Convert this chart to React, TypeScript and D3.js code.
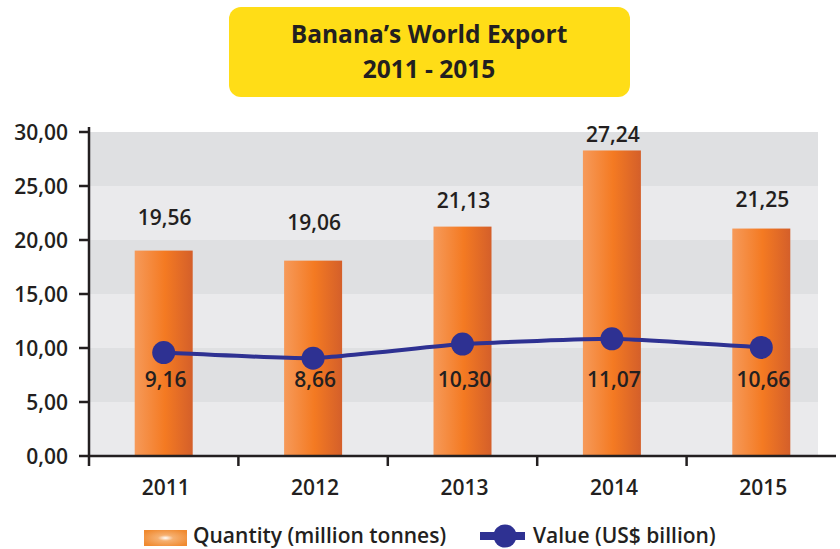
import React, { useEffect, useRef } from "react";
import * as d3 from "d3";

// values
const years = ["2011", "2012", "2013", "2014", "2015"];
const quantity = [19.02, 18.09, 21.24, 28.29, 21.06];
const quantityLabels = ["19,56", "19,06", "21,13", "27,24", "21,25"];
const quantityLabelAt = [19.56, 19.06, 21.13, 27.24, 21.25];
const value = [9.58, 9.06, 10.36, 10.85, 10.05];
const valueLabels = ["9,16", "8,66", "10,30", "11,07", "10,66"];
const yTicks = [0, 5, 10, 15, 20, 25, 30];

const W = 840;
const H = 549;
const FONT = "'Open Sans', 'Noto Sans', sans-serif";
const INK = "#231f20";
const FS = 21;

const App = () => {
    const svgRef = useRef<SVGSVGElement>(null);

    useEffect(() => {
        document.body.style.margin = "0";
        const svg = d3.select(svgRef.current);
        svg.selectAll("*").remove();

        const margin = { top: 132, right: 4, bottom: 93, left: 89 };
        const x = d3.scaleBand().domain(years).range([margin.left, W - margin.right]);
        const y = d3.scaleLinear().domain([0, 30]).range([H - margin.bottom, margin.top]);

        const defs = svg.append("defs");
        const barGrad = defs.append("linearGradient").attr("id", "barGrad");
        barGrad.append("stop").attr("offset", "0%").attr("stop-color", "#f69a5a");
        barGrad.append("stop").attr("offset", "52%").attr("stop-color", "#f47a22");
        barGrad.append("stop").attr("offset", "100%").attr("stop-color", "#d45f2a");
        const swatchGrad = defs.append("radialGradient").attr("id", "swatchGrad")
            .attr("cx", "0.5").attr("cy", "0.5").attr("r", "0.6");
        swatchGrad.append("stop").attr("offset", "0%").attr("stop-color", "#ffffff");
        swatchGrad.append("stop").attr("offset", "30%").attr("stop-color", "#f6b070");
        swatchGrad.append("stop").attr("offset", "100%").attr("stop-color", "#f08a30");

        // title box
        svg.append("rect")
            .attr("x", 229).attr("y", 7).attr("width", 401).attr("height", 90)
            .attr("rx", 12).attr("fill", "#ffdd17");
        const title = svg.append("text")
            .attr("text-anchor", "middle")
            .attr("font-family", FONT).attr("font-weight", 700)
            .attr("font-size", 24.5).attr("fill", INK);
        title.append("tspan").attr("x", 429).attr("y", 43).text("Banana’s World Export");
        title.append("tspan").attr("x", 429).attr("y", 78).text("2011 - 2015");

        // alternating bands
        const bandEnd = x(years[4])! + x.bandwidth() - 18;
        const bands = d3.pairs(yTicks);
        svg.append("g").selectAll("rect").data(bands).join("rect")
            .attr("x", margin.left)
            .attr("y", d => y(d[1]))
            .attr("width", bandEnd - margin.left)
            .attr("height", d => y(d[0]) - y(d[1]))
            .attr("fill", (d, i) => (i % 2 === 0 ? "#eaeaec" : "#dfe0e2"));

        // bars
        const barW = 58;
        svg.append("g").selectAll("rect").data(years).join("rect")
            .attr("x", d => x(d)! + x.bandwidth() / 2 - barW / 2)
            .attr("y", (d, i) => y(quantity[i]))
            .attr("width", barW)
            .attr("height", (d, i) => y(0) - y(quantity[i]))
            .attr("fill", "url(#barGrad)");

        // axes
        const axisG = svg.append("g").attr("stroke", INK).attr("stroke-width", 2.5);
        axisG.append("line")
            .attr("x1", margin.left).attr("x2", margin.left)
            .attr("y1", y(30) - 5).attr("y2", y(0) + 10);
        axisG.append("line")
            .attr("x1", margin.left - 1).attr("x2", W - margin.right)
            .attr("y1", y(0)).attr("y2", y(0));
        axisG.selectAll(".yt").data(yTicks).join("line")
            .attr("x1", margin.left - 10).attr("x2", margin.left)
            .attr("y1", d => y(d)).attr("y2", d => y(d));
        axisG.selectAll(".xt").data(years.slice(1)).join("line")
            .attr("x1", d => x(d)!).attr("x2", d => x(d)!)
            .attr("y1", y(0)).attr("y2", y(0) + 10);

        const label = (sel: any) =>
            sel.attr("font-family", FONT).attr("font-weight", 600)
                .attr("font-size", FS).attr("fill", INK);

        svg.append("g").selectAll("text").data(yTicks).join("text")
            .attr("x", margin.left - 21)
            .attr("y", d => y(d))
            .attr("dy", "0.36em")
            .attr("text-anchor", "end")
            .call(label)
            .text(d => d3.format(".2f")(d).replace(".", ","));

        svg.append("g").selectAll("text").data(years).join("text")
            .attr("x", d => x(d)! + x.bandwidth() / 2 + 2)
            .attr("y", y(0) + 39)
            .attr("text-anchor", "middle")
            .call(label)
            .text(d => d);

        // quantity labels
        svg.append("g").selectAll("text").data(years).join("text")
            .attr("x", d => x(d)! + x.bandwidth() / 2 + 1)
            .attr("y", (d, i) => y(quantityLabelAt[i]) - 20)
            .attr("text-anchor", "middle")
            .call(label)
            .text((d, i) => quantityLabels[i]);

        // value line
        const line = d3.line<number>()
            .x((d, i) => x(years[i])! + x.bandwidth() / 2)
            .y(d => y(d))
            .curve(d3.curveCardinal.tension(0.6));
        svg.append("path")
            .datum(value)
            .attr("fill", "none")
            .attr("stroke", "#2e3192")
            .attr("stroke-width", 4)
            .attr("d", line);
        svg.append("g").selectAll("circle").data(value).join("circle")
            .attr("cx", (d, i) => x(years[i])! + x.bandwidth() / 2)
            .attr("cy", d => y(d))
            .attr("r", 11.5)
            .attr("fill", "#2e3192");
        svg.append("g").selectAll("text").data(valueLabels).join("text")
            .attr("x", (d, i) => x(years[i])! + x.bandwidth() / 2 + 2)
            .attr("y", y(6.4))
            .attr("text-anchor", "middle")
            .call(label)
            .text(d => d);

        // legend
        const leg = svg.append("g");
        leg.append("rect")
            .attr("x", 144).attr("y", 530).attr("width", 43).attr("height", 16)
            .attr("fill", "url(#swatchGrad)");
        leg.append("text")
            .attr("x", 193).attr("y", 542.5)
            .call(label)
            .text("Quantity (million tonnes)");
        leg.append("line")
            .attr("x1", 480).attr("x2", 525).attr("y1", 536).attr("y2", 536)
            .attr("stroke", "#2e3192").attr("stroke-width", 8);
        leg.append("circle")
            .attr("cx", 505).attr("cy", 536).attr("r", 11.5).attr("fill", "#2e3192");
        leg.append("text")
            .attr("x", 533).attr("y", 542.5)
            .call(label)
            .text("Value (US$ billion)");
    }, []);

    return <svg ref={svgRef} width={W} height={H} style={{ display: "block" }} />;
};

export default App;
